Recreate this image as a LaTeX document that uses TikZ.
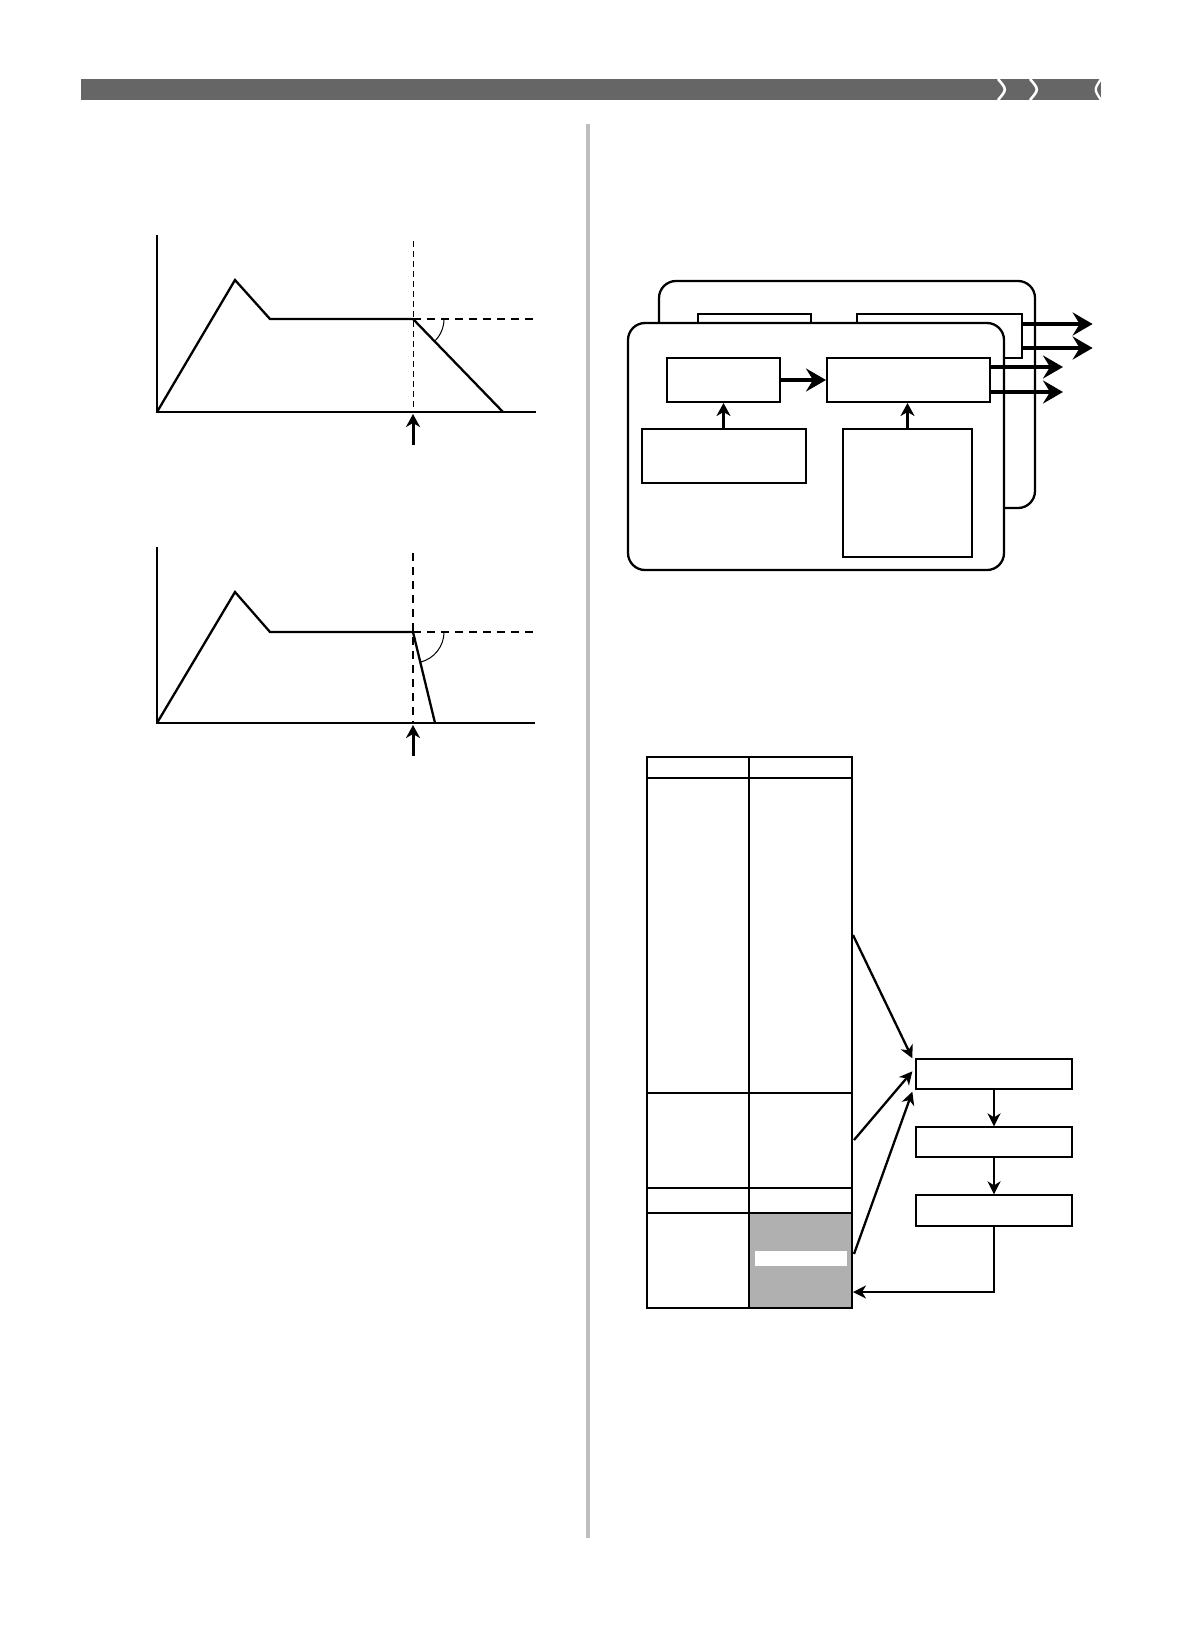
\documentclass[tikz,border=0pt]{standalone}
\usetikzlibrary{arrows.meta,fit}
\definecolor{bargray}{HTML}{666666}
\definecolor{sepgray}{HTML}{BEBEBE}
\definecolor{cellgray}{HTML}{B0B0B0}
\begin{document}
\begin{tikzpicture}[x=1pt,y=-1pt,
  box/.style={draw, line width=2pt, inner sep=0pt, fill=white},
  thinbox/.style={draw, line width=1.3pt, inner sep=0pt, fill=white},
  panel/.style={draw, line width=2.3pt, rounded corners=17pt, fill=white},
  bigarrow/.style={line width=4.4pt, -{Stealth[length=20pt,width=23pt,inset=7pt]}},
  uparrow/.style={line width=3pt, -{Stealth[length=13pt,width=14pt,inset=4pt]}},
  tarrow/.style={line width=2.3pt, -{Stealth[length=13pt,width=13pt,inset=4pt]}},
  env/.style={line width=2.3pt, line join=miter},
  axis/.style={line width=2pt},
  thindash/.style={line width=1pt, dash pattern=on 6pt off 4pt},
  thickdash/.style={line width=2pt, dash pattern=on 8pt off 6pt},
  tline/.style={line width=1.8pt}
]
\useasboundingbox (0,0) rectangle (1179,1646);

% header bar
\fill[bargray] (81,79) rectangle (1101,100);
\draw[white, line width=2.6pt] (998,79) .. controls (1007,89.5) .. (998,100);
\draw[white, line width=2.6pt] (1030,79) .. controls (1039,89.5) .. (1030,100);
\draw[white, line width=2.3pt] (1101,79) .. controls (1094,89.5) .. (1101,100);

% separator
\draw[sepgray, line width=4pt] (588,124) -- (588,1538);

% ---------- graph 1 ----------
\draw[axis] (157,235) -- (157,412) -- (536,412);
\draw[thindash] (413,241) -- (413,412);
\draw[thickdash] (413,319) -- (537,319);
\draw[env] (157,412) -- (235,280) -- (270,319) -- (413,319) -- (503,412);
\draw[line width=1pt] (444,319) arc[start angle=0, end angle=-46, radius=31pt];
\draw[uparrow] (413,445) -- (413,414);

% ---------- graph 2 ----------
\draw[axis] (157,547) -- (157,723) -- (535,723);
\draw[thickdash] (413,553) -- (413,723);
\draw[thickdash] (413,632) -- (537,632);
\draw[env] (157,723) -- (235,592) -- (270,632) -- (413,632) -- (435,723);
\draw[line width=1pt] (444,632) arc[start angle=0, end angle=-76, radius=31pt];
\draw[uparrow] (413,756) -- (413,725);

% ---------- block diagram ----------
\node[panel, fit={(659,281) (1035,508)}, inner sep=0pt] (back) {};
\node[thinbox, fit={(698,314) (811,358)}] (ba) {};
\node[thinbox, fit={(857,314) (1022,358)}] (bb) {};
\draw[bigarrow] ([yshift=12pt]bb.east) -- ++(70,0);
\draw[bigarrow] ([yshift=-12pt]bb.east) -- ++(70,0);
\node[panel, fit={(628,323) (1004,570)}, inner sep=0pt] (front) {};
\node[box, fit={(667,358) (780,402)}] (c) {};
\node[box, fit={(827,358) (990,402)}] (d) {};
\node[thinbox, fit={(642,429) (806,483)}] (e) {};
\node[thinbox, fit={(843,429) (972,557)}] (f) {};
\draw[bigarrow] (c.east) -- (d.west);
\draw[bigarrow] ([yshift=13pt]d.east) -- ++(72,0);
\draw[bigarrow] ([yshift=-12pt]d.east) -- ++(72,0);
\draw[uparrow] (e.north -| c.south) -- (c.south);
\draw[uparrow] (f.north) -- (f.north |- d.south);

% ---------- table ----------
\node[fit={(749,1213) (852,1308)}, inner sep=0pt, fill=cellgray] (gcell) {};
\fill[white] (755,1251) rectangle (847,1266);
\node[draw, tline, fit={(647,757) (852,1308)}, inner sep=0pt] (tbl) {};
\draw[tline] (749,757) -- (749,1308);
\draw[tline] (647,778) -- (852,778);
\draw[tline] (647,1093) -- (852,1093);
\draw[tline] (647,1188) -- (852,1188);
\draw[tline] (647,1213) -- (852,1213);

\node[thinbox, fit={(916,1059) (1072,1089)}] (g) {};
\node[thinbox, fit={(916,1127) (1072,1157)}] (h) {};
\node[thinbox, fit={(916,1195) (1072,1226)}] (i) {};

\coordinate (s1) at (853,935);
\coordinate (s2) at (854,1140);
\coordinate (s3) at (854,1254);
\coordinate (fb) at (853,1292);
\draw[tarrow] (s1) -- ([xshift=-3pt]g.north west);
\draw[tarrow] (s2) -- ([xshift=-3pt,yshift=-13pt]g.north west);
\draw[tarrow] (s3) -- ([xshift=-3pt,yshift=-2pt]g.south west);
\draw[tarrow] (g.south) -- (h.north);
\draw[tarrow] (h.south) -- (i.north);
\draw[tarrow] (i.south) |- (fb);
\end{tikzpicture}
\end{document}
